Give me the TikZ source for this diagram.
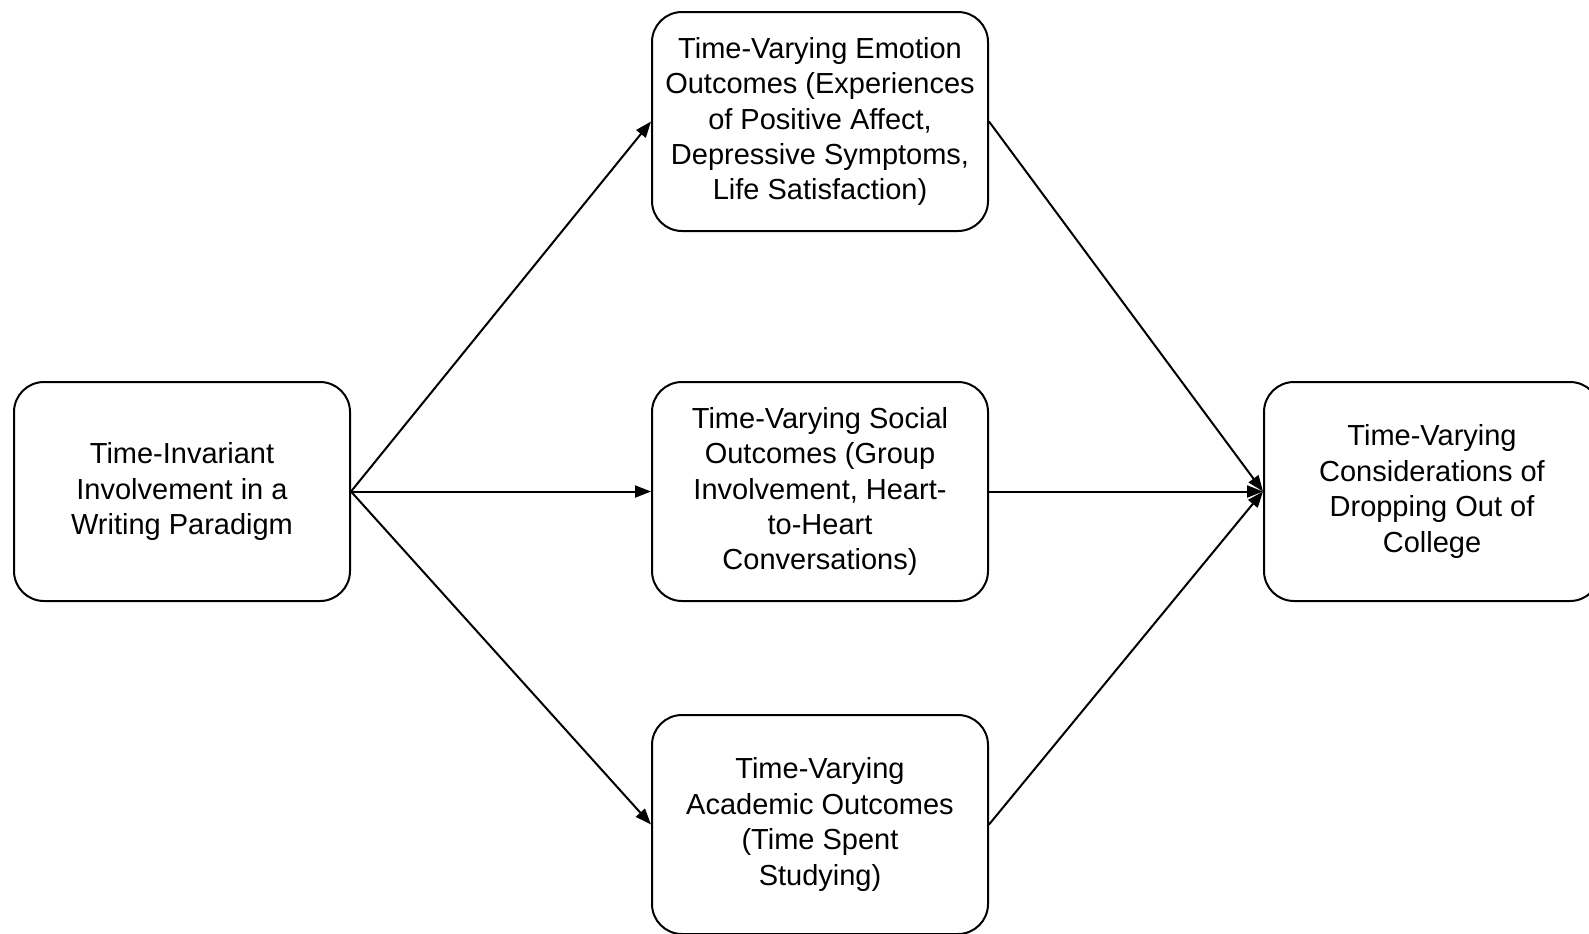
\documentclass[tikz,border=0pt]{standalone}
\usepackage{fontspec}
\setmainfont{Liberation Sans}
\usetikzlibrary{arrows.meta}
\tikzstyle{every node}=[font=\fontsize{14.5}{17.7}\selectfont]
\tikzstyle{every path}=[line width=1pt,line cap=round,line join=round]
\tikzstyle{stage}=[draw,rounded corners=15pt,minimum width=168pt,minimum height=109.5pt,align=center,inner sep=0pt]
\tikzstyle{link}=[-{Triangle[length=8pt,width=6pt]}]

\begin{document}
\begin{tikzpicture}[x=0.5pt,y=-0.5pt]
    \useasboundingbox (0,0) rectangle (1589,933);

    % writing paradigm (left)
    \node [stage] (invar) at (182,491.5) {Time-Invariant\\Involvement in a\\Writing Paradigm};

    % time-varying outcomes (middle column)
    \node [stage] (emotion) at (820,121.5) {Time-Varying Emotion\\Outcomes (Experiences\\of Positive Affect,\\Depressive Symptoms,\\Life Satisfaction)};
    \node [stage] (social) at (820,491.5) {Time-Varying Social\\Outcomes (Group\\Involvement, Heart-\\to-Heart\\Conversations)};
    \node [stage] (academic) at (820,824.5) {Time-Varying\\Academic Outcomes\\(Time Spent\\Studying)};

    % dropping out (right)
    \node [stage] (dropout) at (1432,491.5) {Time-Varying\\Considerations of\\Dropping Out of\\College};

    % paths
    \draw [link] (invar.east) -- (emotion.west);
    \draw [link] (invar.east) -- (social.west);
    \draw [link] (invar.east) -- (academic.west);
    \draw [link] (emotion.east) -- (dropout.west);
    \draw [link] (social.east) -- (dropout.west);
    \draw [link] (academic.east) -- (dropout.west);
\end{tikzpicture}
\end{document}
